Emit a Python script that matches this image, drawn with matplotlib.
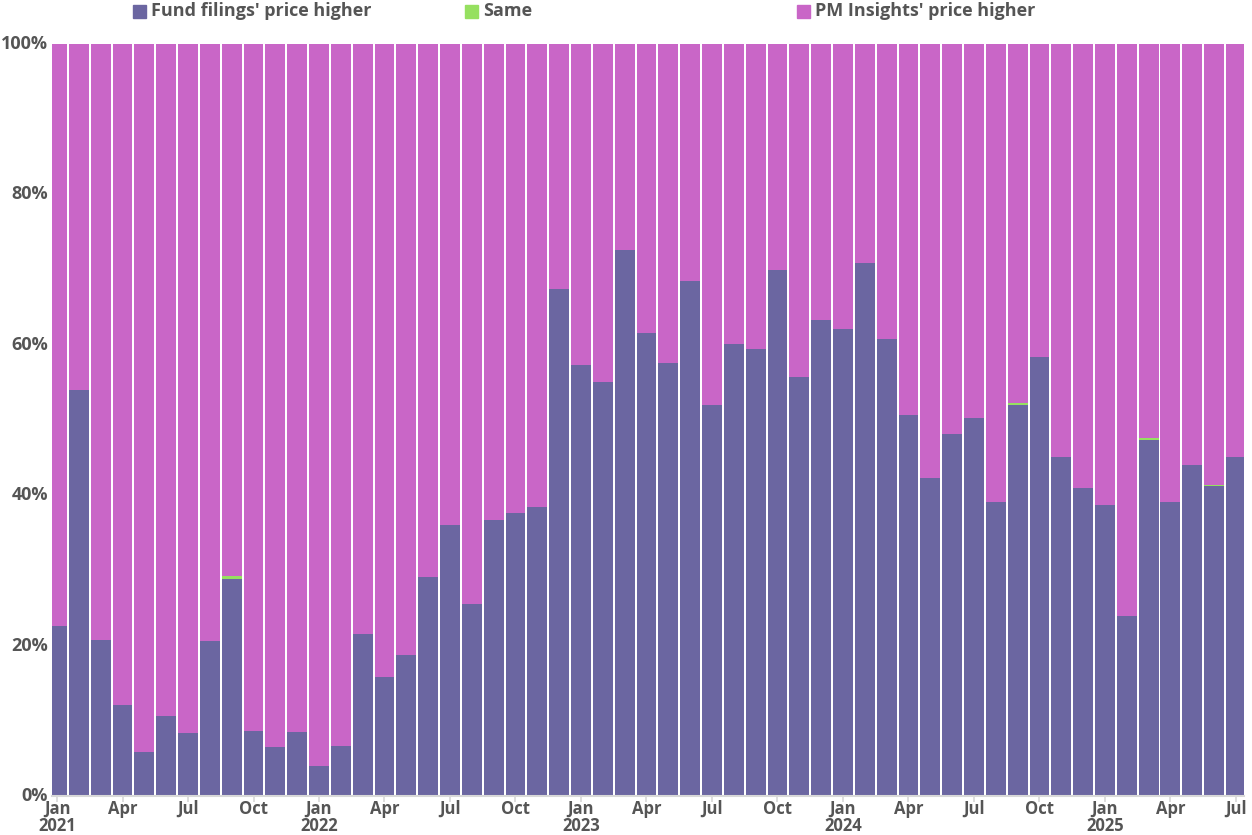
import numpy as np
import matplotlib.pyplot as plt
from matplotlib.patches import Rectangle

# Datos mensuales (% de filings), Jan 2021 - Jul 2025
months = ['Jan', 'Feb', 'Mar', 'Apr', 'May', 'Jun', 'Jul', 'Aug', 'Sep', 'Oct', 'Nov', 'Dec']
years = [2021, 2022, 2023, 2024, 2025]

fund_higher = [
    22.6, 54.0, 20.7, 12.1, 5.9, 10.6, 8.4, 20.6, 28.9, 8.6, 6.5, 8.5,
    4.0, 6.6, 21.5, 15.8, 18.8, 29.1, 36.0, 25.5, 36.7, 37.6, 38.4, 67.4,
    57.3, 55.1, 72.6, 61.6, 57.6, 68.5, 52.0, 60.1, 59.4, 69.9, 55.7, 63.3,
    62.1, 70.9, 60.8, 50.7, 42.3, 48.1, 50.3, 39.1, 52.0, 58.4, 45.1, 41.0,
    38.7, 23.9, 47.3, 39.1, 44.0, 41.2, 45.1,
]
same = [0.0] * 55
same[8] = 0.3
same[44] = 0.3
same[50] = 0.3
same[53] = 0.1
pm_higher = [100 - f - s for f, s in zip(fund_higher, same)]

labels = ["Fund filings' price higher", "Same", "PM Insights' price higher"]
colors = ['#6b66a1', '#96e060', '#c966c7']
txt_color = '#555555'
font = 'Open Sans'

x = np.arange(len(fund_higher))

fig = plt.figure(figsize=(12.52, 8.35), dpi=100)
ax = fig.add_axes([52 / 1252, 39 / 835, 1192 / 1252, 752 / 835])

fund = np.array(fund_higher)
sm = np.array(same)
pm = np.array(pm_higher)
w = 0.91
ax.bar(x, fund, width=w, color=colors[0], linewidth=0)
ax.bar(x, sm, width=w, bottom=fund, color=colors[1], linewidth=0)
ax.bar(x, pm, width=w, bottom=fund + sm, color=colors[2], linewidth=0)

ax.set_xlim(-0.23, 54.37)
ax.set_ylim(0, 100)

# Ejes
for s in ['top', 'right', 'left']:
    ax.spines[s].set_visible(False)
ax.spines['bottom'].set_color('#d8d8d8')
ax.spines['bottom'].set_linewidth(1.5)

yt = [0, 20, 40, 60, 80, 100]
ax.set_yticks(yt)
ax.set_yticklabels([f'{v}%' for v in yt], fontsize=13, fontweight='bold',
                   color=txt_color, family=font)
ax.tick_params(axis='y', length=0, pad=3)
for lab in ax.get_yticklabels():
    lab.set_verticalalignment('center')

xt = list(range(0, 55, 3))
xl = []
for i in xt:
    m = months[i % 12]
    if m == 'Jan':
        xl.append(f'{m}\n{years[i // 12]}')
    else:
        xl.append(m)
ax.set_xticks(xt)
ax.set_xticklabels(xl, fontsize=12, fontweight='bold', color=txt_color,
                   family=font, linespacing=0.95)
ax.tick_params(axis='x', length=4, color='#d8d8d8', width=1.2, pad=-1)

# Leyenda
leg_x = [133, 465, 797]
for lx, lab, c in zip(leg_x, labels, colors):
    fig.patches.append(Rectangle((lx / 1252, (835 - 18) / 835), 13 / 1252, 13 / 835,
                                 transform=fig.transFigure, color=c))
    fig.text((lx + 18) / 1252, (835 - 11) / 835, lab, fontsize=13, fontweight='bold',
             color=txt_color, family=font, va='center', ha='left')

fig.savefig('out.png', dpi=100)
